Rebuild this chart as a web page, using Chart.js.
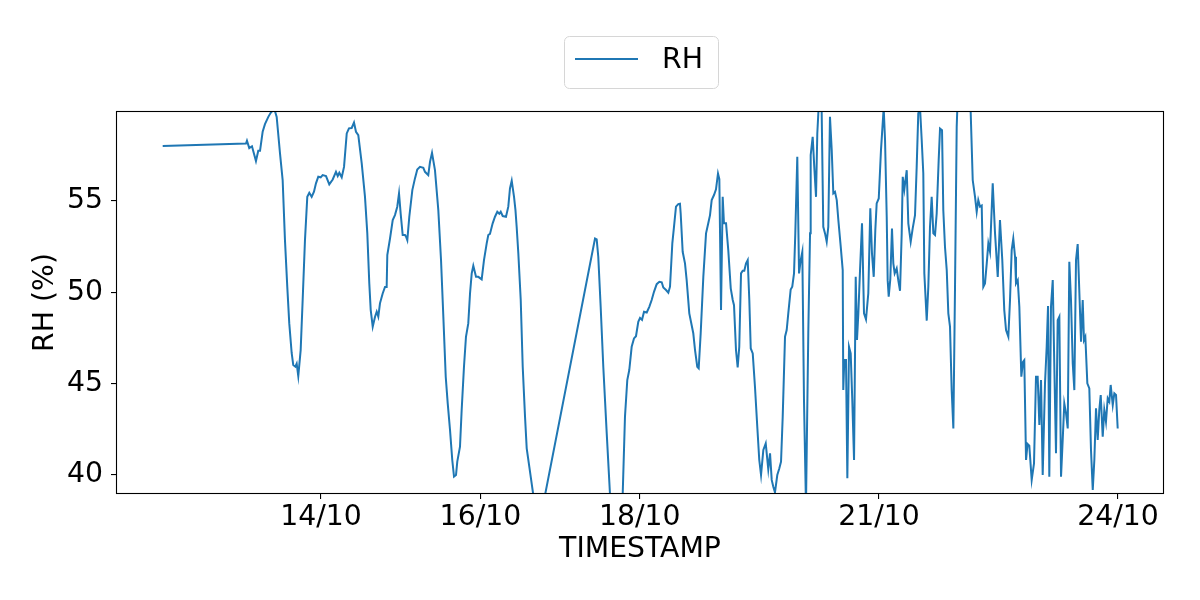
<!DOCTYPE html>
<html><head><meta charset="utf-8">
<script src="https://cdn.jsdelivr.net/npm/chart.js@4.4.0/dist/chart.umd.min.js"></script>
<style>html,body{margin:0;padding:0;background:#fff}#wrap{width:1200px;height:600px}</style>
</head><body><div id="wrap"><canvas id="c" width="1200" height="600"></canvas></div>
<script>
// time as day-of-October (decimal days), RH in %
const dayOfOctober = [
12.014,13.059,13.071,13.100,13.134,13.184,13.213,13.235,13.268,13.297,13.339,13.369,13.414,13.444,13.486,13.519,13.548,13.577,13.602,13.632,
13.652,13.678,13.695,13.715,13.745,13.770,13.799,13.828,13.853,13.883,13.912,13.937,13.966,13.996,14.021,14.063,14.104,14.147,14.188,14.210,
14.230,14.260,14.289,14.323,14.351,14.385,14.414,14.439,14.468,14.511,14.552,14.581,14.606,14.624,14.649,14.678,14.699,14.719,14.740,14.774,
14.803,14.824,14.832,14.866,14.900,14.928,14.957,14.979,15.000,15.025,15.054,15.067,15.083,15.108,15.146,15.179,15.208,15.242,15.284,15.305,
15.346,15.368,15.393,15.430,15.472,15.506,15.535,15.565,15.590,15.619,15.647,15.669,15.694,15.710,15.744,15.765,15.794,15.819,15.848,15.870,
15.891,15.911,15.945,15.974,16.016,16.045,16.079,16.099,16.120,16.154,16.183,16.212,16.237,16.255,16.280,16.321,16.350,16.371,16.393,16.422,
16.440,16.455,16.476,16.506,16.531,16.560,16.581,16.614,16.664,16.726,17.438,17.459,17.479,17.509,17.542,17.585,17.729,17.814,17.843,17.868,
17.898,17.927,17.952,17.981,18.003,18.028,18.053,18.087,18.119,18.149,18.178,18.212,18.245,18.275,18.295,18.329,18.358,18.379,18.408,18.429,
18.454,18.483,18.504,18.513,18.538,18.567,18.588,18.621,18.642,18.671,18.693,18.721,18.739,18.764,18.797,18.831,18.859,18.881,18.902,18.931,
18.956,18.981,18.998,19.019,19.040,19.056,19.082,19.110,19.141,19.166,19.182,19.207,19.228,19.248,19.270,19.291,19.311,19.333,19.354,19.374,
19.392,19.417,19.445,19.474,19.499,19.521,19.550,19.580,19.592,19.612,19.634,19.655,19.675,19.696,19.725,19.750,19.772,19.793,19.822,19.843,
19.863,19.893,19.913,19.935,19.951,19.976,19.998,20.019,20.039,20.060,20.085,20.114,20.136,20.144,20.169,20.189,20.211,20.227,20.248,20.280,
20.302,20.324,20.345,20.365,20.386,20.408,20.428,20.449,20.471,20.491,20.521,20.546,20.553,20.566,20.587,20.604,20.625,20.646,20.666,20.688,
20.709,20.725,20.742,20.763,20.788,20.813,20.838,20.867,20.892,20.913,20.935,20.955,20.972,20.998,21.026,21.060,21.077,21.098,21.110,21.123,
21.143,21.164,21.181,21.198,21.223,21.243,21.265,21.286,21.299,21.319,21.349,21.369,21.399,21.424,21.453,21.474,21.494,21.516,21.537,21.557,
21.570,21.600,21.620,21.641,21.662,21.683,21.704,21.725,21.750,21.767,21.792,21.808,21.829,21.851,21.871,21.892,21.913,21.934,21.955,21.976,
21.999,22.068,22.137,22.177,22.206,22.227,22.247,22.269,22.290,22.310,22.331,22.353,22.373,22.394,22.428,22.457,22.491,22.519,22.548,22.573,
22.595,22.624,22.645,22.666,22.686,22.708,22.720,22.742,22.762,22.787,22.808,22.824,22.846,22.865,22.887,22.917,22.946,22.971,22.992,23.013,
23.034,23.055,23.084,23.105,23.122,23.138,23.159,23.181,23.201,23.222,23.243,23.264,23.285,23.306,23.326,23.348,23.369,23.389,23.410,23.432,
23.452,23.473,23.494,23.514,23.536,23.557,23.573,23.590,23.615,23.640,23.661,23.683,23.703,23.724,23.745,23.765,23.783,23.808,23.828,23.849,
23.871,23.891,23.908,23.934,23.954,23.975,23.996
];
const rh = [
58.02,58.15,58.30,57.90,58.00,57.19,57.75,57.75,58.79,59.21,59.61,59.83,60.05,59.60,57.60,56.15,52.86,50.30,48.30,46.68,
46.02,45.93,46.10,45.42,46.84,49.58,52.86,55.23,55.45,55.23,55.51,55.97,56.33,56.30,56.42,56.37,55.91,56.18,56.60,56.37,
56.55,56.30,56.87,58.70,58.98,59.00,59.30,58.79,58.61,57.06,55.23,53.23,50.49,49.03,48.12,48.67,48.94,48.67,49.40,49.94,
50.30,50.30,52.04,52.95,53.96,54.23,54.69,55.42,54.30,53.14,53.14,53.05,52.86,54.14,55.60,56.24,56.73,56.87,56.82,56.60,
56.42,57.15,57.64,56.69,54.50,51.77,48.67,45.38,43.92,42.46,40.82,39.91,40.00,40.73,41.55,43.56,45.93,47.57,48.30,49.95,
51.04,51.46,50.85,50.85,50.71,51.77,52.68,53.14,53.20,53.78,54.14,54.41,54.30,54.41,54.18,54.14,54.69,55.69,56.11,55.23,
54.50,53.59,52.13,49.58,45.93,43.19,41.46,40.45,38.90,37.00,52.95,52.90,51.95,49.21,45.93,42.28,30.60,43.19,45.20,45.75,
47.02,47.48,47.60,48.39,48.60,48.50,48.94,48.90,49.21,49.58,50.03,50.45,50.58,50.55,50.27,50.13,49.98,50.31,52.68,53.59,
54.69,54.83,54.85,54.32,52.22,51.59,50.67,48.85,48.39,47.76,46.84,45.93,45.84,47.76,50.85,53.23,53.78,54.23,55.05,55.33,
55.64,56.51,56.20,49.03,55.23,53.78,53.78,52.32,50.22,49.58,49.30,46.84,45.89,47.02,51.04,51.18,51.18,51.59,51.77,49.58,
46.93,46.66,44.83,42.64,40.82,40.00,41.37,41.73,41.20,40.31,41.19,39.73,39.36,39.05,40.00,40.36,40.73,43.19,47.57,47.94,
48.85,50.16,50.31,51.04,53.23,57.42,51.04,51.77,52.22,44.10,38.30,47.76,53.23,57.52,58.52,56.87,55.23,58.70,60.50,60.50,
53.59,53.23,52.77,53.59,59.61,57.79,55.42,55.50,55.05,53.96,52.50,51.22,44.65,46.29,46.29,39.82,47.02,46.66,44.10,40.82,
50.85,47.39,48.85,51.20,53.78,48.85,48.52,49.95,54.60,52.13,50.85,53.41,54.87,55.14,57.79,60.10,58.34,54.14,50.67,49.76,
50.72,53.50,51.59,51.04,51.31,50.67,50.09,53.23,56.33,55.64,56.69,53.78,52.77,53.50,54.23,56.87,59.80,60.10,58.34,56.51,
51.04,48.45,50.31,53.59,55.23,53.23,53.14,54.32,57.24,58.97,58.88,54.50,52.50,51.22,48.85,48.12,44.65,42.55,50.30,59.06,
62.00,63.00,62.00,56.15,55.23,54.41,55.05,54.69,54.75,50.30,50.49,51.59,52.68,52.22,55.97,53.23,50.85,53.96,51.77,49.03,
47.94,47.57,49.58,52.32,52.95,51.95,50.49,50.67,49.21,45.38,46.20,46.29,40.82,41.70,41.60,39.73,40.64,45.38,45.38,42.74,
45.20,40.00,45.02,47.02,49.25,39.91,49.21,50.67,45.93,41.19,48.48,48.67,39.91,41.92,43.92,43.38,42.55,51.68,49.58,46.11,
44.65,51.77,52.64,50.13,47.30,49.58,47.39,47.57,45.02,44.74,41.37,39.18,40.82,43.65,41.92,43.56,44.38,42.10,43.56,42.92,
44.20,44.02,44.93,43.83,44.47,44.38,42.55
];
const xTickDays = [14, 16, 18, 21, 24];
const xTickLabels = ['14/10', '16/10', '18/10', '21/10', '24/10'];
const yTickValues = [40, 45, 50, 55];
const seriesName = 'RH';
const xAxisTitle = 'TIMESTAMP';
const yAxisTitle = 'RH (%)';
const xRange = [11.428, 24.577];
const yRange = [38.96, 59.93];

const LINE_COLOR = '#1f77b4';
const FONT = 'DejaVu Sans';
const FS = 28.3;

const frame = {
  id: 'frame',
  afterDatasetsDraw(chart) {
    const {ctx, chartArea: a} = chart;
    ctx.save();
    ctx.strokeStyle = '#000';
    ctx.lineWidth = 1.1;
    ctx.strokeRect(a.left + 0.5, a.top + 0.5, a.right - a.left - 1, a.bottom - a.top - 1);
    ctx.restore();
  }
};

const boxLegend = {
  id: 'boxLegend',
  afterDraw(chart) {
    const {ctx, chartArea: a} = chart;
    const ds = chart.data.datasets[0];
    const cx = (a.left + a.right) / 2 + 1;
    const w = 154, h = 52, top = 36;
    const left = cx - w / 2;
    ctx.save();
    ctx.beginPath();
    if (ctx.roundRect) ctx.roundRect(left + 0.5, top + 0.5, w, h, 5);
    else ctx.rect(left + 0.5, top + 0.5, w, h);
    ctx.fillStyle = 'rgba(255,255,255,0.8)';
    ctx.fill();
    ctx.strokeStyle = '#d6d6d6';
    ctx.lineWidth = 1;
    ctx.stroke();
    ctx.beginPath();
    ctx.moveTo(left + 11, top + 23);
    ctx.lineTo(left + 74, top + 23);
    ctx.strokeStyle = ds.borderColor;
    ctx.lineWidth = 2;
    ctx.stroke();
    ctx.fillStyle = '#000';
    ctx.font = FS + 'px "' + FONT + '"';
    ctx.textBaseline = 'middle';
    ctx.textAlign = 'left';
    ctx.fillText(ds.label, left + 98, top + 25);
    ctx.restore();
  }
};

const points = dayOfOctober.map((d, i) => ({x: d, y: rh[i]}));

new Chart(document.getElementById('c'), {
  type: 'line',
  data: {
    datasets: [{
      label: seriesName,
      data: points,
      borderColor: LINE_COLOR,
      backgroundColor: LINE_COLOR,
      borderWidth: 2,
      pointRadius: 0,
      tension: 0,
      fill: false
    }]
  },
  options: {
    responsive: false,
    animation: false,
    devicePixelRatio: 1,
    layout: {padding: {top: 111, right: 36, left: 0, bottom: 0}},
    plugins: {legend: {display: false}, tooltip: {enabled: false}},
    scales: {
      x: {
        type: 'linear',
        min: xRange[0], max: xRange[1],
        afterBuildTicks: s => { s.ticks = xTickDays.map(v => ({value: v})); },
        afterFit: s => { s.height = 106; },
        ticks: {
          autoSkip: false, maxRotation: 0, color: '#000', padding: 2,
          font: {family: FONT, size: FS},
          callback: v => { const i = xTickDays.indexOf(v); return i >= 0 ? xTickLabels[i] : ''; }
        },
        grid: {display: true, drawOnChartArea: false, drawTicks: true, tickLength: 5, color: '#000', lineWidth: 1.1},
        border: {display: false},
        title: {display: true, text: xAxisTitle, color: '#000', font: {family: FONT, size: FS}, padding: {top: 0, bottom: 33}}
      },
      y: {
        type: 'linear',
        min: yRange[0], max: yRange[1],
        afterBuildTicks: s => { s.ticks = yTickValues.map(v => ({value: v})); },
        afterFit: s => { s.width = 116; },
        ticks: {
          color: '#000', padding: 8,
          font: {family: FONT, size: FS},
          callback: v => String(v)
        },
        grid: {display: true, drawOnChartArea: false, drawTicks: true, tickLength: 5, color: '#000', lineWidth: 1.1},
        border: {display: false},
        title: {display: true, text: yAxisTitle, color: '#000', font: {family: FONT, size: FS}, padding: {top: 29, bottom: 0}}
      }
    }
  },
  plugins: [frame, boxLegend]
});
</script>
</body></html>
